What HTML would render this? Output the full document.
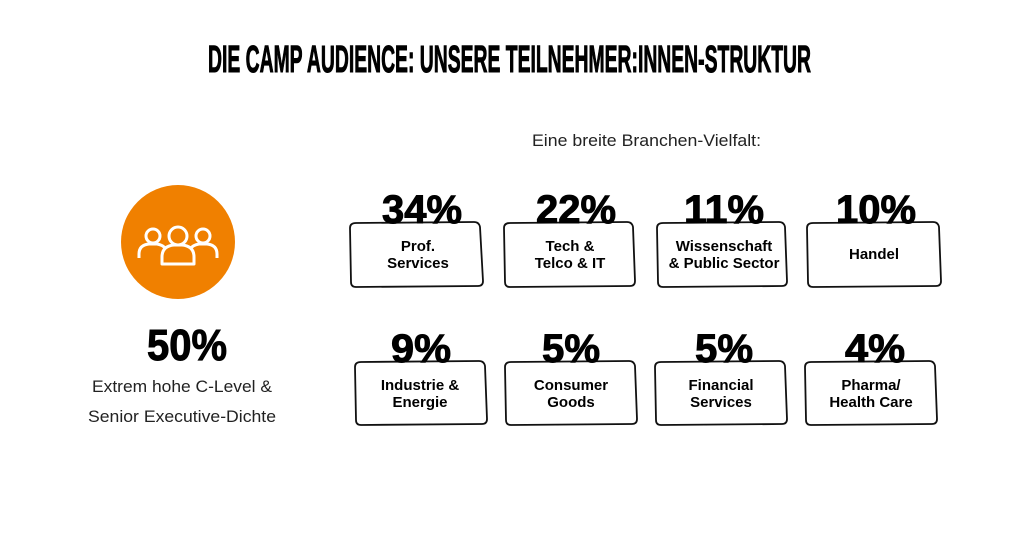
<!DOCTYPE html>
<html><head><style>html,body{margin:0;padding:0;background:#fff}</style></head>
<body>
<svg width="1024" height="531" viewBox="0 0 1024 531" xmlns="http://www.w3.org/2000/svg" font-family="Liberation Sans, sans-serif">
<rect width="1024" height="531" fill="#fff"/>
<text x="208" y="72" font-size="38" font-weight="bold" textLength="603" lengthAdjust="spacingAndGlyphs" fill="#000" stroke="#000" stroke-width="1">DIE CAMP AUDIENCE: UNSERE TEILNEHMER:INNEN-STRUKTUR</text>
<text x="532" y="146" font-size="17" textLength="229" lengthAdjust="spacingAndGlyphs" fill="#222">Eine breite Branchen-Vielfalt:</text>
<circle cx="178" cy="242" r="57" fill="#f08000"/>
<g fill="none" stroke="#fff" stroke-width="3" stroke-linejoin="round">
<circle cx="153" cy="236" r="7"/><path d="M139 258 v-4 q0-9 10-10 h8 q6 1 9 5"/>
<circle cx="203" cy="236" r="7"/><path d="M217 258 v-4 q0-9 -10-10 h-8 q-6 1 -9 5"/>
<circle cx="178" cy="236" r="9"/><path d="M162 264 v-7 q0-11 12-12 h8 q12 1 12 12 v7 z" fill="#f08000"/>
</g>
<text x="187" y="360" font-size="44" font-weight="bold" text-anchor="middle" textLength="80" lengthAdjust="spacingAndGlyphs" stroke="#000" stroke-width="1">50%</text>
<text x="182" y="392" font-size="17" text-anchor="middle" fill="#222" textLength="180" lengthAdjust="spacingAndGlyphs">Extrem hohe C-Level &amp;</text>
<text x="182" y="422" font-size="17" text-anchor="middle" fill="#222" textLength="188" lengthAdjust="spacingAndGlyphs">Senior Executive-Dichte</text>
<g fill="none" stroke="#111" stroke-width="1.8">
<path d="M356 223 L474 222 Q479 222 480 227 L483 281 Q483 286 478 286 L356 287 Q351 287 351 282 L350 228 Q350 223 356 223Z"/>
<path d="M510 223 L627 222 Q632 222 633 227 L635 281 Q635 286 630 286 L510 287 Q505 287 505 282 L504 228 Q504 223 510 223Z"/>
<path d="M663 223 L779 222 Q784 222 785 227 L787 281 Q787 286 782 286 L663 287 Q658 287 658 282 L657 228 Q657 223 663 223Z"/>
<path d="M813 223 L933 222 Q938 222 939 227 L941 281 Q941 286 936 286 L813 287 Q808 287 808 282 L807 228 Q807 223 813 223Z"/>
<path d="M361 362 L479 361 Q484 361 485 366 L487 419 Q487 424 482 424 L361 425 Q356 425 356 420 L355 367 Q355 362 361 362Z"/>
<path d="M511 362 L629 361 Q634 361 635 366 L637 419 Q637 424 632 424 L511 425 Q506 425 506 420 L505 367 Q505 362 511 362Z"/>
<path d="M661 362 L779 361 Q784 361 785 366 L787 419 Q787 424 782 424 L661 425 Q656 425 656 420 L655 367 Q655 362 661 362Z"/>
<path d="M811 362 L929 361 Q934 361 935 366 L937 419 Q937 424 932 424 L811 425 Q806 425 806 420 L805 367 Q805 362 811 362Z"/>
</g>
<g font-size="40" font-weight="bold" text-anchor="middle" fill="#000" stroke="#000" stroke-width="1">
<text x="422" y="223" textLength="80" lengthAdjust="spacingAndGlyphs">34%</text>
<text x="576" y="223" textLength="80" lengthAdjust="spacingAndGlyphs">22%</text>
<text x="724" y="223" textLength="80" lengthAdjust="spacingAndGlyphs">11%</text>
<text x="876" y="223" textLength="80" lengthAdjust="spacingAndGlyphs">10%</text>
<text x="421" y="362" textLength="60" lengthAdjust="spacingAndGlyphs">9%</text>
<text x="571" y="362" textLength="58" lengthAdjust="spacingAndGlyphs">5%</text>
<text x="724" y="362" textLength="58" lengthAdjust="spacingAndGlyphs">5%</text>
<text x="875" y="362" textLength="60" lengthAdjust="spacingAndGlyphs">4%</text>
</g>
<g font-size="15" font-weight="bold" text-anchor="middle" fill="#000">
<text x="418" y="251">Prof.</text><text x="418" y="268">Services</text>
<text x="570" y="251">Tech &amp;</text><text x="570" y="268">Telco &amp; IT</text>
<text x="724" y="251">Wissenschaft</text><text x="724" y="268">&amp; Public Sector</text>
<text x="874" y="259">Handel</text>
<text x="420" y="390">Industrie &amp;</text><text x="420" y="407">Energie</text>
<text x="571" y="390">Consumer</text><text x="571" y="407">Goods</text>
<text x="721" y="390">Financial</text><text x="721" y="407">Services</text>
<text x="871" y="390">Pharma/</text><text x="871" y="407">Health Care</text>
</g>
</svg>
</body></html>
